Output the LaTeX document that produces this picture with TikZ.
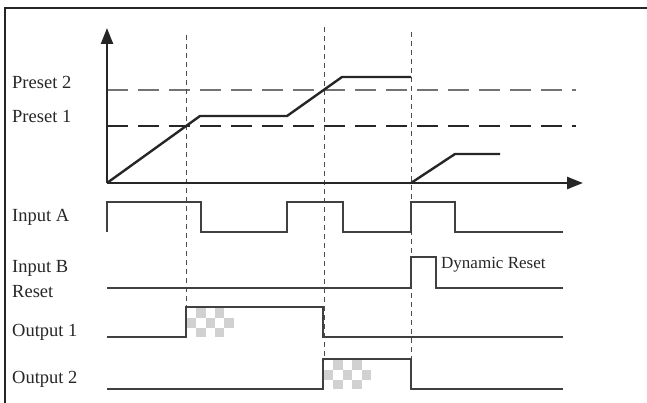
\documentclass[tikz,border=0pt]{standalone}
\usepackage{fontspec}
\setmainfont{Liberation Serif}
\usetikzlibrary{arrows.meta}
\begin{document}
\begin{tikzpicture}[x=1pt,y=-1pt,
  lbl/.style={anchor=base west,inner sep=0pt,font=\fontsize{18.5}{20}\selectfont,text=black!85},
  axis/.style={line width=2.4pt,black!85,-{Triangle[length=16pt,width=12pt]}},
  curve/.style={line width=2.4pt,black!85,line join=round},
  sig/.style={line width=1.4pt,black!75},
  vdash/.style={line width=1pt,black!70,dash pattern=on 5pt off 4pt},
  pdash/.style={line width=1.6pt,dash pattern=on 21pt off 10pt},
  chk/.style={fill=black!18,draw=none}]
\useasboundingbox (0,0) rectangle (647,403);
% frame
\draw[line width=2.5pt,black!85] (5,403) -- (5,8) -- (647,8);
% preset dashed lines
\draw[pdash,black!55] (107,90) -- (576,90);
\draw[pdash,black!85] (107,126) -- (576,126);
% vertical dashed markers
\draw[vdash] (186,35) -- (186,308);
\draw[vdash] (324,27) -- (324,360);
\draw[vdash] (411,32) -- (411,360);
% checker fills
\foreach \i/\j in {1/0,3/0,0/1,2/1,4/1,1/2,3/2}{
  \fill[chk] (187+\i*9.3,308+\j*9.8) rectangle ++(9.3,9.8);
  \fill[chk] (324+\i*9.4,360+\j*9.8) rectangle ++(9.4,9.8);
}
% axes
\coordinate (O) at (107,183);
\draw[axis] (O) -- (107,28);
\draw[axis] (O) -- (583,183);
% count curve
\draw[curve] (O) -- (200,116) -- (287,116) -- (342,77) -- (411,77);
\draw[curve] (411,183) -- (455,154) -- (500,154);
% labels
\node[lbl] (p2) at (12,89) {Preset 2};
\node[lbl] (p1) at (12,123) {Preset 1};
\node[lbl] (ia) at (12,222) {Input A};
\node[lbl] (ib) at (12,272) {Input B};
\node[lbl] (rs) at (12,297) {Reset};
\node[lbl] (o1) at (12,336) {Output 1};
\node[lbl] (o2) at (12,383) {Output 2};
\node[lbl,font=\fontsize{17}{19}\selectfont] (dr) at (441,268) {Dynamic Reset};
% Input A
\draw[sig] (107,232) -- (107,202) -- (201,202) -- (201,232) -- (287,232) -- (287,202)
  -- (343,202) -- (343,232) -- (411,232) -- (411,202) -- (455,202) -- (455,232) -- (563,232);
% Input B
\draw[sig] (107,288) -- (411,288) -- (411,257) -- (436,257) -- (436,288) -- (563,288);
% Output 1
\draw[sig] (107,337) -- (186,337) -- (186,307) -- (323,307) -- (323,337) -- (563,337);
% Output 2
\draw[sig] (107,389) -- (323,389) -- (323,359) -- (411,359) -- (411,389) -- (563,389);
\end{tikzpicture}
\end{document}
